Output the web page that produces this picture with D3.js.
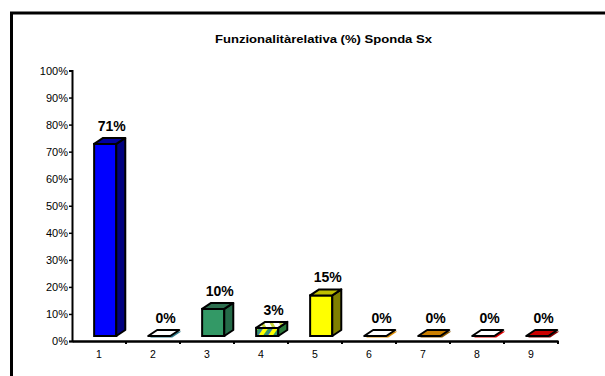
<!DOCTYPE html>
<html>
<head>
<meta charset="utf-8">
<script src="https://cdn.jsdelivr.net/npm/d3@7"></script>
<style>
  body { margin: 0; background: #fff; }
  svg { display: block; font-family: Arial, "Liberation Sans", sans-serif; }
</style>
</head>
<body>
<div id="chart"></div>
<script>
// chart data
var categories = ["1", "2", "3", "4", "5", "6", "7", "8", "9"];
var values = [71, 0, 10, 3, 15, 0, 0, 0, 0];
var valueLabels = ["71%", "0%", "10%", "3%", "15%", "0%", "0%", "0%", "0%"];
var frontColors = ["#0000FF", "#336699", "#339966", "url(#mix)", "#FFFF00", "#FF9900", "#CC8000", "#FF0000", "#CC0000"];
var sideColors  = ["#000080", "#2e7a8a", "#256b48", "#2a7a3a", "#808000", "#d98a00", "#8a5700", "#e00000", "#800000"];
var topColors   = ["#0000A0", "#ffffff", "#2e6f4f", "url(#mix2)", "#BFBF00", "#ffffff", "#CC8000", "#ffffff", "#CC0000"];
var yTicks = [0, 10, 20, 30, 40, 50, 60, 70, 80, 90, 100];

var W = 605, H = 376;
var svg = d3.select("#chart").append("svg")
    .attr("width", W)
    .attr("height", H);

// patterns for the mixed bar
var defs = svg.append("defs");
var pat = defs.append("pattern").attr("id", "mix")
    .attr("patternUnits", "userSpaceOnUse").attr("width", 8).attr("height", 8)
    .attr("patternTransform", "rotate(35)");
pat.append("rect").attr("width", 8).attr("height", 8).attr("fill", "#FFFF00");
pat.append("rect").attr("width", 3).attr("height", 8).attr("fill", "#339966");
pat.append("rect").attr("x", 3).attr("width", 1).attr("height", 8).attr("fill", "#3366cc");
var pat2 = defs.append("pattern").attr("id", "mix2")
    .attr("patternUnits", "userSpaceOnUse").attr("width", 8).attr("height", 8)
    .attr("patternTransform", "rotate(-30)");
pat2.append("rect").attr("width", 8).attr("height", 8).attr("fill", "#ffffff");
pat2.append("rect").attr("width", 3).attr("height", 8).attr("fill", "#c8d840");

// outer frame (cut off at right/bottom)
svg.append("rect")
    .attr("x", 11.5).attr("y", 13)
    .attr("width", 640).attr("height", 420)
    .attr("fill", "none").attr("stroke", "#000").attr("stroke-width", 3);

// title
svg.append("text")
    .attr("x", 323.5).attr("y", 43)
    .attr("text-anchor", "middle")
    .attr("font-size", "11px").attr("font-weight", "bold")
    .attr("textLength", 217).attr("lengthAdjust", "spacingAndGlyphs")
    .text("Funzionalitàrelativa (%) Sponda Sx");

var x0 = 72, x1 = 558, yBase = 341, yTop = 70.5;

var x = d3.scaleBand().domain(categories).range([x0, x1]).padding(0);
var y = d3.scaleLinear().domain([0, 100]).range([yBase, yTop]);

var bw = x.bandwidth();
var frontW = bw * 0.41, dx = 9, dy = 6, lift = 5;

// y axis
var yAxis = svg.append("g")
    .attr("transform", "translate(" + x0 + ",0)")
    .call(d3.axisLeft(y).tickValues(yTicks).tickSize(3).tickPadding(1)
        .tickFormat(function(d) { return d + "%"; }));
yAxis.select(".domain").attr("stroke-width", 2);
yAxis.selectAll(".tick line").attr("stroke-width", 1.5);
yAxis.selectAll("text").attr("font-size", "11px").attr("font-family", "Arial, 'Liberation Sans', sans-serif").attr("fill", "#000");

// x axis
var xAxis = svg.append("g")
    .attr("transform", "translate(0," + yBase + ")")
    .call(d3.axisBottom(x).tickSize(0).tickPadding(10));
xAxis.select(".domain").attr("stroke-width", 2.5);
xAxis.selectAll("text").attr("font-size", "10.5px").attr("font-family", "Arial, 'Liberation Sans', sans-serif").attr("fill", "#000");

// boundary ticks between categories
var bounds = categories.map(function(c) { return x(c); }).concat([x1]);
svg.append("g").selectAll("line")
    .data(bounds.slice(1))
    .enter().append("line")
    .attr("x1", function(d) { return d; }).attr("x2", function(d) { return d; })
    .attr("y1", yBase).attr("y2", yBase + 3)
    .attr("stroke", "#000").attr("stroke-width", 2);

// bars
var bars = svg.append("g").selectAll("g")
    .data(values.map(function(v, i) { return { v: v, i: i, c: categories[i] }; }))
    .enter().append("g");

bars.each(function(d) {
    var g = d3.select(this);
    var fx = x(d.c) + bw * 0.41;
    var by = y(0) - lift;
    var ty = y(d.v) - lift;
    var h = by - ty;
    if (h > 0.5) {
        // front
        g.append("rect")
            .attr("x", fx).attr("y", ty).attr("width", frontW).attr("height", h)
            .attr("fill", frontColors[d.i]).attr("stroke", "#000").attr("stroke-width", 2);
        // side
        g.append("path")
            .attr("d", "M" + (fx + frontW) + "," + ty +
                " L" + (fx + frontW + dx) + "," + (ty - dy) +
                " L" + (fx + frontW + dx) + "," + (by - dy) +
                " L" + (fx + frontW) + "," + by + " Z")
            .attr("fill", sideColors[d.i]).attr("stroke", "#000").attr("stroke-width", 2)
            .attr("stroke-linejoin", "round");
    } else {
        // flat bar: coloured underside just peeking out
        g.append("path")
            .attr("d", "M" + (fx + 2) + "," + (by + 1.5) +
                " L" + (fx + frontW + 2) + "," + (by + 1.5) +
                " L" + (fx + frontW + dx + 2) + "," + (by - dy + 1.5) +
                " L" + (fx + dx + 2) + "," + (by - dy + 1.5) + " Z")
            .attr("fill", sideColors[d.i]);
    }
    // top
    g.append("path")
        .attr("d", "M" + fx + "," + ty +
            " L" + (fx + frontW) + "," + ty +
            " L" + (fx + frontW + dx) + "," + (ty - dy) +
            " L" + (fx + dx) + "," + (ty - dy) + " Z")
        .attr("fill", topColors[d.i]).attr("stroke", "#000").attr("stroke-width", 2)
        .attr("stroke-linejoin", "round");
    // value label
    g.append("text")
        .attr("x", fx + frontW / 2 + dx / 2 + 2)
        .attr("y", ty - dy - 7)
        .attr("text-anchor", "middle")
        .attr("font-size", "14px").attr("font-weight", "bold")
        .text(valueLabels[d.i]);
});
</script>
</body>
</html>
